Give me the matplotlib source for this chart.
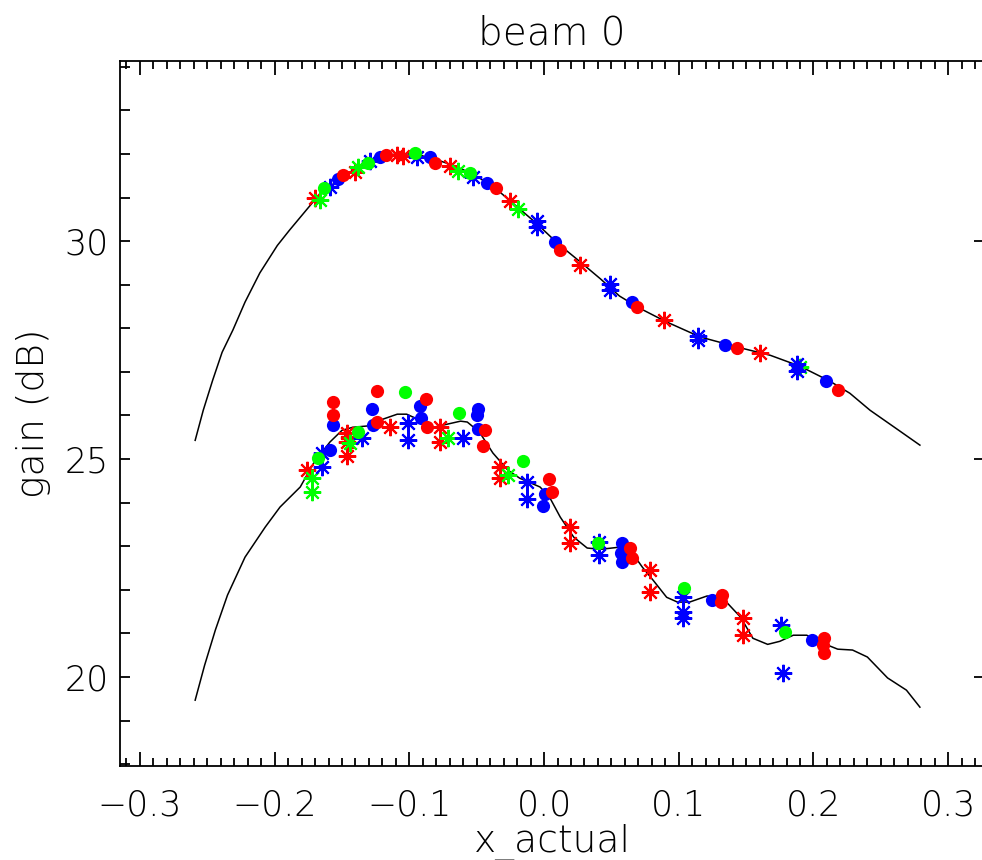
import matplotlib
matplotlib.use("Agg")
from matplotlib import pyplot as plt
from matplotlib.ticker import MultipleLocator

# fitted model curves
upper_x = [-0.259, -0.253, -0.246, -0.239, -0.231, -0.222, -0.211, -0.198, -0.189, -0.179,
           -0.169, -0.155, -0.140, -0.125, -0.107, -0.092, -0.079, -0.066, -0.053, -0.038,
           -0.025, -0.005, 0.010, 0.027, 0.042, 0.056, 0.071, 0.090, 0.116, 0.146,
           0.168, 0.190, 0.212, 0.227, 0.242, 0.261, 0.279]
upper_y = [25.43, 26.12, 26.81, 27.45, 27.96, 28.60, 29.27, 29.90, 30.25, 30.62,
           30.99, 31.35, 31.67, 31.90, 32.02, 31.97, 31.86, 31.72, 31.54, 31.26,
           30.92, 30.39, 29.95, 29.52, 29.13, 28.74, 28.46, 28.16, 27.80, 27.55,
           27.38, 27.13, 26.79, 26.51, 26.12, 25.71, 25.32]

lower_x = [-0.259, -0.252, -0.244, -0.235, -0.222, -0.207, -0.196, -0.181, -0.171, -0.159,
           -0.150, -0.142, -0.131, -0.122, -0.109, -0.102, -0.092, -0.082, -0.072, -0.062,
           -0.057, -0.048, -0.038, -0.027, -0.018, -0.003, 0.004, 0.012, 0.022, 0.032,
           0.042, 0.056, 0.064, 0.073, 0.081, 0.091, 0.099, 0.108, 0.121, 0.128,
           0.136, 0.146, 0.155, 0.166, 0.175, 0.185, 0.195, 0.205, 0.218, 0.229,
           0.240, 0.255, 0.269, 0.279]
lower_y = [19.47, 20.27, 21.08, 21.88, 22.75, 23.44, 23.90, 24.36, 24.91, 25.39,
           25.66, 25.73, 25.76, 25.89, 26.03, 26.03, 25.89, 25.73, 25.80, 25.87,
           25.85, 25.62, 25.14, 24.75, 24.56, 24.36, 24.13, 23.67, 23.21, 22.96,
           22.93, 22.98, 22.91, 22.52, 22.22, 21.83, 21.72, 21.72, 21.86, 21.83,
           21.70, 21.37, 20.89, 20.75, 20.82, 20.96, 20.96, 20.80, 20.64, 20.62,
           20.46, 19.98, 19.70, 19.31]

# measured points, upper set
up_red_star_x = [-0.170, -0.140, -0.109, -0.105, -0.070, -0.025, 0.027, 0.089, 0.160]
up_red_star_y = [30.99, 31.58, 31.97, 31.95, 31.72, 30.92, 29.45, 28.19, 27.43]
up_green_star_x = [-0.166, -0.138, -0.064, -0.019, 0.190]
up_green_star_y = [30.94, 31.70, 31.61, 30.73, 27.11]
up_blue_star_x = [-0.159, -0.129, -0.094, -0.053, -0.005, -0.005, 0.049, 0.049, 0.114, 0.114, 0.188, 0.188]
up_blue_star_y = [31.24, 31.84, 31.93, 31.47, 30.46, 30.32, 29.01, 28.88, 27.82, 27.73, 27.18, 27.02]
up_green_dot_x = [-0.163, -0.131, -0.096, -0.055]
up_green_dot_y = [31.22, 31.79, 32.02, 31.56]
up_blue_dot_x = [-0.153, -0.122, -0.085, -0.042, 0.008, 0.065, 0.134, 0.209]
up_blue_dot_y = [31.42, 31.93, 31.93, 31.33, 29.98, 28.60, 27.61, 26.79]
up_red_dot_x = [-0.149, -0.117, -0.081, -0.036, 0.012, 0.069, 0.143, 0.218]
up_red_dot_y = [31.51, 31.97, 31.79, 31.22, 29.79, 28.49, 27.55, 26.58]

# measured points, lower set
lo_red_star_x = [-0.176, -0.146, -0.146, -0.146, -0.114, -0.077, -0.077, -0.033, -0.033,
                 0.019, 0.019, 0.079, 0.079, 0.148, 0.148]
lo_red_star_y = [24.75, 25.60, 25.39, 25.07, 25.73, 25.73, 25.39, 24.82, 24.56,
                 23.44, 23.07, 22.45, 21.95, 21.35, 20.96]
lo_green_star_x = [-0.172, -0.172, -0.144, -0.071, -0.027]
lo_green_star_y = [24.56, 24.24, 25.37, 25.48, 24.63]
lo_blue_star_x = [-0.165, -0.165, -0.135, -0.101, -0.101, -0.060, -0.013, -0.013, 0.041, 0.041,
                  0.103, 0.103, 0.103, 0.176, 0.177]
lo_blue_star_y = [24.82, 25.14, 25.48, 25.82, 25.44, 25.48, 24.47, 24.08, 23.09, 22.80,
                  21.83, 21.49, 21.35, 21.19, 20.09]
lo_green_dot_x = [-0.168, -0.138, -0.103, -0.063, -0.016, 0.040, 0.104, 0.179]
lo_green_dot_y = [25.02, 25.62, 26.54, 26.06, 24.95, 23.07, 22.04, 21.03]
lo_blue_dot_x = [-0.159, -0.157, -0.128, -0.127, -0.092, -0.091, -0.049, -0.050, -0.049,
                 0.001, -0.001, 0.058, 0.057, 0.058, 0.125, 0.199]
lo_blue_dot_y = [25.21, 25.78, 26.15, 25.78, 26.21, 25.94, 26.15, 26.01, 25.69,
                 24.20, 23.92, 23.07, 22.84, 22.64, 21.76, 20.85]
lo_red_dot_x = [-0.157, -0.157, -0.124, -0.124, -0.088, -0.087, -0.044, -0.045, 0.004, 0.006,
                0.064, 0.065, 0.132, 0.131, 0.208, 0.208, 0.207]
lo_red_dot_y = [26.31, 26.01, 26.56, 25.85, 26.38, 25.73, 25.66, 25.30, 24.54, 24.24,
                22.96, 22.73, 21.88, 21.72, 20.89, 20.55, 20.73]

RED, GREEN, BLUE = "#ff0000", "#00ff00", "#0000ff"
STAR = (8, 2, 0)

plt.rcParams["font.family"] = ["DejaVu Sans"]

fig = plt.figure(figsize=(9.82, 8.6), dpi=100)
ax = fig.add_axes([0.1222, 0.1093, 0.880, 0.8197])

ax.plot(upper_x, upper_y, color="black", lw=1.1)
ax.plot(lower_x, lower_y, color="black", lw=1.1)

star_sets = [
    (up_red_star_x, up_red_star_y, RED), (up_green_star_x, up_green_star_y, GREEN),
    (up_blue_star_x, up_blue_star_y, BLUE),
    (lo_red_star_x, lo_red_star_y, RED), (lo_green_star_x, lo_green_star_y, GREEN),
    (lo_blue_star_x, lo_blue_star_y, BLUE),
]
dot_sets = [
    (up_green_dot_x, up_green_dot_y, GREEN), (up_blue_dot_x, up_blue_dot_y, BLUE),
    (up_red_dot_x, up_red_dot_y, RED),
    (lo_green_dot_x, lo_green_dot_y, GREEN), (lo_blue_dot_x, lo_blue_dot_y, BLUE),
    (lo_red_dot_x, lo_red_dot_y, RED),
]
for xs, ys, c in star_sets:
    ax.plot(xs, ys, ls="none", marker=STAR, ms=12.5, mew=1.5, color=c)
for xs, ys, c in dot_sets:
    ax.plot(xs, ys, ls="none", marker="o", ms=9.5, mew=0, color=c)

ax.set_xlim(-0.3148, 0.3267)
ax.set_ylim(17.96, 34.13)

ax.xaxis.set_major_locator(MultipleLocator(0.1))
ax.xaxis.set_minor_locator(MultipleLocator(0.01))
ax.yaxis.set_major_locator(MultipleLocator(5))
ax.yaxis.set_minor_locator(MultipleLocator(1))
ax.xaxis.set_major_formatter(plt.FuncFormatter(lambda v, p: f"{v:.1f}".replace("-", "\u2212")))

ax.tick_params(axis="x", which="both", direction="in", top=True, bottom=True,
               labelsize=25, pad=16, width=1.3)
ax.tick_params(axis="x", which="major", length=10)
ax.tick_params(axis="x", which="minor", length=6)
ax.tick_params(axis="y", which="both", direction="in", left=True, right=False,
               labelsize=25, pad=8, width=1.3, length=7.5)
ax.tick_params(axis="y", which="major", right=True)

for s in ax.spines.values():
    s.set_linewidth(1.3)

for lab in ax.get_xticklabels() + ax.get_yticklabels():
    lab.set_fontweight("light")

ax.set_title("beam 0", fontsize=28, pad=12, fontweight="light")
ax.set_xlabel("x_actual", fontsize=27, labelpad=1, fontweight="light")
ax.set_ylabel("gain (dB)", fontsize=27, labelpad=10, fontweight="light")

fig.savefig("out.png", dpi=100)
